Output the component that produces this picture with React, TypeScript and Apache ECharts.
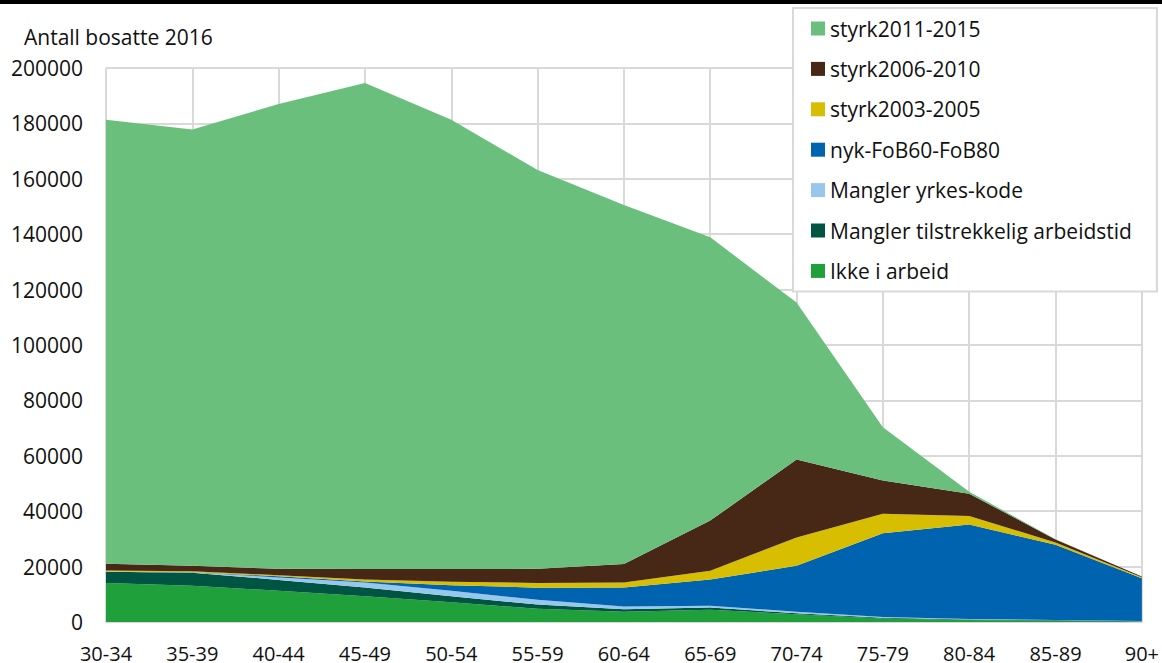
import React, { useEffect, useRef } from "react";
import * as echarts from "echarts";

const categories = ["30-34", "35-39", "40-44", "45-49", "50-54", "55-59", "60-64", "65-69", "70-74", "75-79", "80-84", "85-89", "90+"];

const ikkeIArbeid = [14100, 13100, 11300, 9300, 7100, 4800, 3700, 4400, 2800, 1300, 700, 400, 200];
const manglerArbeidstid = [4000, 4700, 3900, 3200, 2200, 1500, 900, 800, 400, 200, 200, 200, 100];
const manglerYrkeskode = [100, 100, 900, 1800, 2000, 1700, 1000, 700, 500, 300, 200, 100, 100];
const nykFoB = [0, 100, 400, 300, 2000, 4400, 6900, 9400, 16600, 30200, 34100, 27200, 15400];
const styrk2003 = [400, 300, 400, 700, 1200, 1700, 1800, 3200, 10200, 7100, 3100, 800, 400];
const styrk2006 = [2400, 2000, 2300, 3800, 4600, 5100, 6600, 18100, 28200, 12000, 8000, 1100, 200];
const styrk2011 = [160300, 157500, 167800, 175500, 162200, 144000, 129600, 102300, 56600, 19200, 700, 100, 0];

const seriesDefs = [
  { name: "Ikke i arbeid", data: ikkeIArbeid, color: "#1fa03a" },
  { name: "Mangler tilstrekkelig arbeidstid", data: manglerArbeidstid, color: "#005542" },
  { name: "Mangler yrkes-kode", data: manglerYrkeskode, color: "#97c7ec" },
  { name: "nyk-FoB60-FoB80", data: nykFoB, color: "#0063b0" },
  { name: "styrk2003-2005", data: styrk2003, color: "#d7be00" },
  { name: "styrk2006-2010", data: styrk2006, color: "#472716" },
  { name: "styrk2011-2015", data: styrk2011, color: "#6abf7c" },
];

const FONT = "'Open Sans', sans-serif";
const FS = 21;

export default function App() {
  const ref = useRef<HTMLDivElement>(null);
  useEffect(() => {
    if (!ref.current) return;
    const chart = echarts.init(ref.current, undefined, { renderer: "svg" });
    chart.setOption({
      animation: false,
      backgroundColor: "#fff",
      textStyle: { fontFamily: FONT },
      grid: { left: 106, right: 19, top: 68, bottom: 40 },
      legend: {
        orient: "vertical",
        left: 793,
        top: 8,
        padding: [10, 25, 10, 18],
        itemGap: 19.4,
        itemWidth: 14,
        itemHeight: 14,
        icon: "rect",
        backgroundColor: "#fff",
        borderColor: "#d9d9d9",
        borderWidth: 2,
        textStyle: { fontSize: FS, fontFamily: FONT, color: "#111", lineHeight: 20 },
        data: seriesDefs.map((s) => s.name).reverse(),
      },
      xAxis: {
        type: "category",
        boundaryGap: false,
        data: categories,
        axisLine: { show: true, lineStyle: { color: "#d9d9d9", width: 2 } },
        axisTick: { show: false },
        axisLabel: { fontSize: 20, fontFamily: FONT, color: "#111", margin: 23, lineHeight: 16 },
        splitLine: { show: true, lineStyle: { color: "#d9d9d9", width: 2 } },
      },
      yAxis: {
        type: "value",
        min: 0,
        max: 200000,
        interval: 20000,
        axisLine: { show: false },
        axisTick: { show: false },
        axisLabel: {
          fontSize: FS,
          fontFamily: FONT,
          color: "#111",
          margin: 23,
          formatter: (v: number) => String(v),
        },
        splitLine: { show: true, lineStyle: { color: "#d9d9d9", width: 2 } },
      },
      graphic: [
        { type: "rect", left: 0, top: 0, shape: { width: 1162, height: 4 }, style: { fill: "#000" } },
        {
          type: "text",
          left: 24,
          top: 26,
          style: { text: "Antall bosatte 2016", fontSize: FS, fontFamily: FONT, fill: "#111" },
        },
      ],
      series: seriesDefs.map((s) => ({
        name: s.name,
        type: "line",
        stack: "total",
        data: s.data,
        showSymbol: false,
        symbol: "none",
        lineStyle: { width: 0 },
        itemStyle: { color: s.color },
        areaStyle: { color: s.color, opacity: 1 },
      })),
    });
    return () => chart.dispose();
  }, []);
  return <div ref={ref} style={{ width: 1162, height: 663, position: "fixed", left: 0, top: 0 }} />;
}
